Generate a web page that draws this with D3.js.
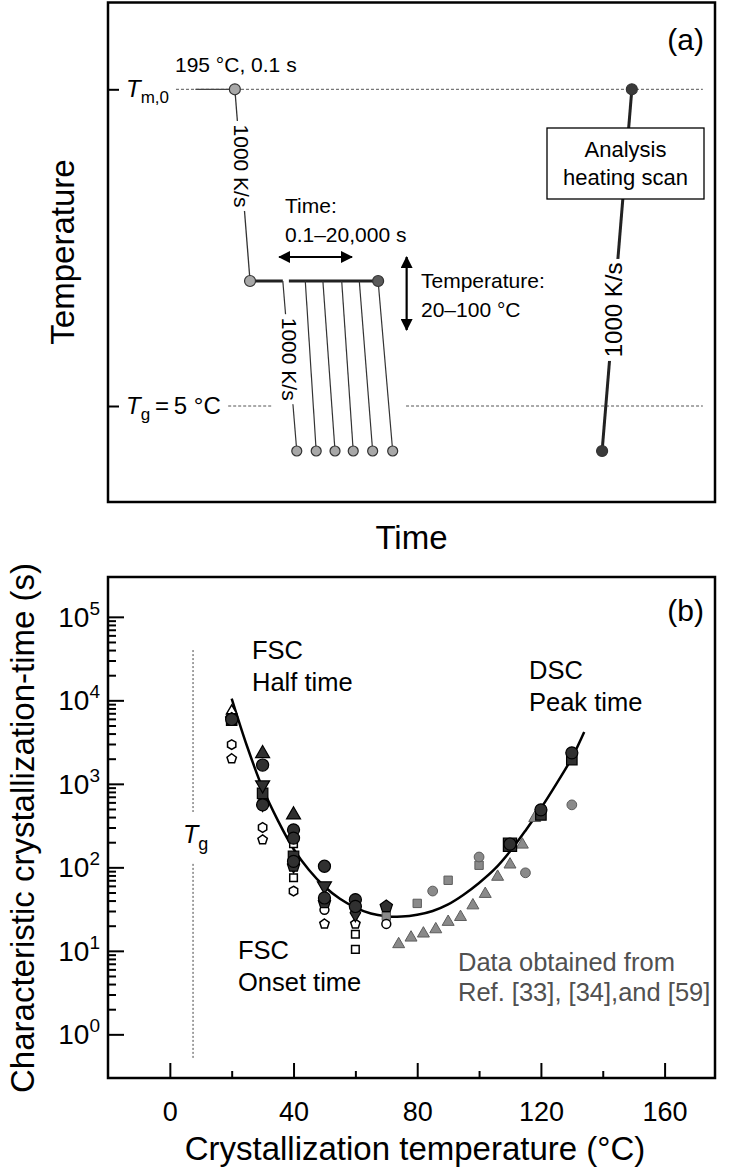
<!DOCTYPE html>
<html>
<head>
<meta charset="utf-8">
<script src="https://cdn.jsdelivr.net/npm/d3@7"></script>
<style>
  body { margin: 0; background: #fff; }
  svg { display: block; font-family: "Liberation Sans", Arial, sans-serif; }
</style>
</head>
<body>
<div id="chart"></div>
<script>
// ---------- panel (a): schematic temperature program (time in arbitrary units 0-100) ----------
const meltTemp = 195, glassTemp = 5, isoTemp = 80, quenchTemp = -22;
const meltDash = [11.2, 98.0];
const meltHold = [14.4, 20.9];
const isoStart = 23.4, isoEnd = 44.5;
const isoGap = [28.8, 29.8];
const quenchStart = [28.8, 32.5, 35.4, 38.5, 41.4, 44.5];
const quenchEnd = [31.1, 34.3, 37.4, 40.4, 43.6, 46.9];
const glassDash = [[19.8, 27.0], [49.1, 98.0]];
const heatScan = [81.4, 86.3];           // start (quenchTemp) -> end (meltTemp)
const timeArrow = [28.2, 40.2], timeArrowTemp = 94.4;
const tempArrow = [94.4, 50.6], tempArrowTime = 49.2;

// ---------- panel (b): characteristic crystallization time ----------
const xMajor = [0, 40, 80, 120, 160];
const xMinor = [20, 60, 100, 140];
const yMajor = [1, 10, 100, 1000, 10000, 100000];
const yMajorExp = ["0", "1", "2", "3", "4", "5"];
const TgB = 7.5;

// fitted curve
const fitT =    [20, 25, 30, 35, 40, 45, 50, 55, 60, 65, 70, 75, 80, 85, 90, 95, 100, 105, 110, 115, 120, 125, 130, 134];
const fitTime = [10500, 2800, 890, 360, 166, 93, 59, 42, 33, 28, 26, 25.7, 27, 30, 36, 47, 65, 95, 155, 275, 510, 1000, 2040, 4170];

// filled dark symbols (FSC half time + DSC peak time)
const darkCircle = [[20, 5900], [30, 1680], [30, 560], [40, 281], [40, 224], [40, 118], [50, 103], [50, 43], [60, 41], [60, 34], [110, 190], [120, 488], [130, 2350]];
const darkSquare = [[20, 5800], [30, 770], [40, 135], [120, 425], [130, 1950]];
const darkBigSquare = [[110, 186]];
const darkTriUp = [[30, 2300], [40, 425]];
const darkTriDown = [[30, 970], [50, 60]];
const darkPentagon = [[20, 6000], [40, 104], [50, 38], [70, 34]];
const darkDiamond = [[30, 600], [40, 110], [60, 28.6]];
// open symbols (FSC onset time)
const openTriUp = [[20, 7500]];
const openHexagon = [[20, 2950], [30, 300], [40, 52]];
const openPentagon = [[20, 2000], [30, 214], [50, 21], [60, 21]];
const openSquare = [[40, 192], [40, 75], [60, 15.8], [60, 10.4]];
const openCircle = [[50, 31], [70, 21]];
// grey symbols (literature data)
const greyTriangle = [[74, 12], [78, 14.4], [82, 16.1], [86, 18.1], [90, 22.2], [94, 25.4], [98, 35], [102, 48], [106, 77], [110, 108], [114, 187], [118, 389]];
const greySquare = [[70, 26], [80, 37], [90, 70], [100, 106]];
const greyCircle = [[85, 52], [100, 133], [115, 86], [130, 560]];

const W = 730, H = 1172;
const svg = d3.select("#chart").append("svg")
    .attr("width", W)
    .attr("height", H);

// arrow heads
const defs = svg.append("defs");
defs.append("marker")
    .attr("id", "head")
    .attr("viewBox", "0 0 12 12")
    .attr("refX", 11).attr("refY", 6)
    .attr("markerWidth", 12).attr("markerHeight", 12)
    .attr("markerUnits", "userSpaceOnUse")
    .attr("orient", "auto-start-reverse")
    .append("path")
    .attr("d", "M0,0 L12,6 L0,12 Z")
    .attr("fill", "#000");

// =================== panel (a) ===================
const boxA = { x0: 108, x1: 715, y0: 2.5, y1: 502 };
const xA = d3.scaleLinear().domain([0, 100]).range([boxA.x0, boxA.x1]);
const yA = d3.scaleLinear().domain([glassTemp, meltTemp]).range([406, 89.3]);
const gA = svg.append("g");

gA.append("rect")
    .attr("x", boxA.x0).attr("y", boxA.y0)
    .attr("width", boxA.x1 - boxA.x0).attr("height", boxA.y1 - boxA.y0)
    .attr("fill", "none").attr("stroke", "#000").attr("stroke-width", 2.5);

// left ticks at T_m,0 and T_g
const axA = gA.append("g")
    .attr("transform", "translate(" + boxA.x0 + ",0)")
    .call(d3.axisLeft(yA).tickValues([glassTemp, meltTemp]).tickSize(-11).tickFormat(""));
axA.select(".domain").remove();
axA.selectAll(".tick line").attr("stroke-width", 2);

const tmLabel = gA.append("text").attr("x", 126).attr("y", yA(meltTemp) + 8)
    .style("font-size", "24px");
tmLabel.append("tspan").style("font-style", "italic").text("T");
tmLabel.append("tspan").attr("dy", 6).style("font-size", "17px").text("m,0");

const tgLabel = gA.append("text").attr("x", 126).attr("y", yA(glassTemp) + 8)
    .style("font-size", "24px");
tgLabel.append("tspan").style("font-style", "italic").text("T");
tgLabel.append("tspan").attr("dy", 6).style("font-size", "17px").text("g");
tgLabel.append("tspan").attr("dy", -6).text("\u2009=\u20095 \u00b0C");

// dashed reference lines
gA.append("line")
    .attr("x1", xA(meltDash[0])).attr("x2", xA(meltDash[1]))
    .attr("y1", yA(meltTemp)).attr("y2", yA(meltTemp))
    .attr("stroke", "#555").attr("stroke-width", 1).attr("stroke-dasharray", "3,2");
gA.selectAll(".tgdash").data(glassDash).join("line")
    .attr("x1", d => xA(d[0])).attr("x2", d => xA(d[1]))
    .attr("y1", yA(glassTemp)).attr("y2", yA(glassTemp))
    .attr("stroke", "#555").attr("stroke-width", 1).attr("stroke-dasharray", "3,2");

// melt hold
gA.append("line")
    .attr("x1", xA(meltHold[0])).attr("x2", xA(meltHold[1]))
    .attr("y1", yA(meltTemp)).attr("y2", yA(meltTemp))
    .attr("stroke", "#444").attr("stroke-width", 1.3);

// cooling to isotherm
gA.append("line")
    .attr("x1", xA(meltHold[1])).attr("y1", yA(meltTemp))
    .attr("x2", xA(isoStart)).attr("y2", yA(isoTemp))
    .attr("stroke", "#333").attr("stroke-width", 1.3);

// isotherm (thick)
[[isoStart, isoGap[0]], [isoGap[1], isoEnd]].forEach(s => {
  gA.append("line")
      .attr("x1", xA(s[0])).attr("x2", xA(s[1]))
      .attr("y1", yA(isoTemp)).attr("y2", yA(isoTemp))
      .attr("stroke", "#222").attr("stroke-width", 3);
});

// quench lines
gA.selectAll(".quench").data(d3.zip(quenchStart, quenchEnd)).join("line")
    .attr("x1", d => xA(d[0])).attr("y1", yA(isoTemp))
    .attr("x2", d => xA(d[1])).attr("y2", yA(quenchTemp))
    .attr("stroke", "#333").attr("stroke-width", 1.2);

// heating scan
gA.append("line")
    .attr("x1", xA(heatScan[0])).attr("y1", yA(quenchTemp))
    .attr("x2", xA(heatScan[1])).attr("y2", yA(meltTemp))
    .attr("stroke", "#222").attr("stroke-width", 3);

// rotated rate labels sitting on the lines
function rateLabel(xa, ya, xb, yb, f, angle, size, len) {
  const cx = xa + (xb - xa) * f, cy = ya + (yb - ya) * f;
  const g = gA.append("g").attr("transform", "translate(" + cx + "," + cy + ") rotate(" + angle + ")");
  g.append("rect").attr("x", -len / 2 - 3).attr("y", -size * 0.6)
      .attr("width", len + 6).attr("height", size * 1.2).attr("fill", "#fff");
  g.append("text").attr("text-anchor", "middle").attr("dy", "0.35em")
      .style("font-size", size + "px").text("1000 K/s");
}
rateLabel(xA(meltHold[1]), yA(meltTemp), xA(isoStart), yA(isoTemp), 0.40, 90, 21, 84);
rateLabel(xA(quenchStart[0]), yA(isoTemp), xA(quenchEnd[0]), yA(quenchTemp), 0.46, 90, 21, 84);
rateLabel(xA(heatScan[0]), yA(quenchTemp), xA(heatScan[1]), yA(meltTemp), 0.39, -90, 24, 96);

// analysis box
gA.append("rect")
    .attr("x", 547).attr("y", 128).attr("width", 157).attr("height", 71)
    .attr("fill", "#fff").attr("stroke", "#000").attr("stroke-width", 1.3);
gA.append("text").attr("x", 625.5).attr("y", 157).attr("text-anchor", "middle")
    .style("font-size", "22px").text("Analysis");
gA.append("text").attr("x", 625.5).attr("y", 185).attr("text-anchor", "middle")
    .style("font-size", "22px").text("heating scan");

// dots
const dotsA = [
  { t: meltHold[1], T: meltTemp, fill: "#a8a8a8", r: 5.5 },
  { t: isoStart, T: isoTemp, fill: "#a8a8a8", r: 5.5 },
  { t: isoEnd, T: isoTemp, fill: "#5a5a5a", r: 5.5 },
  { t: heatScan[0], T: quenchTemp, fill: "#3a3a3a", r: 5.5 },
  { t: heatScan[1], T: meltTemp, fill: "#3a3a3a", r: 5.5 }
].concat(quenchEnd.map(t => ({ t: t, T: quenchTemp, fill: "#a8a8a8", r: 5 })));
gA.selectAll(".dot").data(dotsA).join("circle")
    .attr("cx", d => xA(d.t)).attr("cy", d => yA(d.T)).attr("r", d => d.r)
    .attr("fill", d => d.fill).attr("stroke", "#333").attr("stroke-width", 1.2);

// double arrows
gA.append("line")
    .attr("x1", xA(timeArrow[0])).attr("x2", xA(timeArrow[1]))
    .attr("y1", yA(timeArrowTemp)).attr("y2", yA(timeArrowTemp))
    .attr("stroke", "#000").attr("stroke-width", 2.2)
    .attr("marker-start", "url(#head)").attr("marker-end", "url(#head)");
gA.append("line")
    .attr("x1", xA(tempArrowTime)).attr("x2", xA(tempArrowTime))
    .attr("y1", yA(tempArrow[0])).attr("y2", yA(tempArrow[1]))
    .attr("stroke", "#000").attr("stroke-width", 2.2)
    .attr("marker-start", "url(#head)").attr("marker-end", "url(#head)");

// annotations
const noteA = [
  { x: 175, y: 72, s: "195 \u00b0C, 0.1 s" },
  { x: 285, y: 213, s: "Time:" },
  { x: 285, y: 242, s: "0.1\u201320,000 s" },
  { x: 421, y: 288, s: "Temperature:" },
  { x: 421, y: 317, s: "20\u2013100 \u00b0C" }
];
gA.selectAll(".note").data(noteA).join("text")
    .attr("x", d => d.x).attr("y", d => d.y)
    .style("font-size", "21px").text(d => d.s);

gA.append("text").attr("x", 704).attr("y", 50).attr("text-anchor", "end")
    .style("font-size", "30px").text("(a)");
gA.append("text").attr("transform", "translate(74,252) rotate(-90)").attr("text-anchor", "middle")
    .style("font-size", "33px").text("Temperature");
gA.append("text").attr("x", 411.5).attr("y", 549).attr("text-anchor", "middle")
    .style("font-size", "33px").text("Time");

// =================== panel (b) ===================
const boxB = { x0: 108, x1: 715, y0: 577, y1: 1078 };
const xB = d3.scaleLinear().domain([-20, 176.3]).range([boxB.x0, boxB.x1]);
const yB = d3.scaleLog().domain([0.3, 3e5]).range([boxB.y1, boxB.y0]);
const gB = svg.append("g");

// x axis (ticks inside)
const xAx = gB.append("g").attr("transform", "translate(0," + boxB.y1 + ")")
    .call(d3.axisBottom(xB).tickValues(xMajor).tickSize(-15).tickPadding(24).tickFormat(d3.format("d")));
gB.append("g").attr("transform", "translate(0," + boxB.y1 + ")")
    .call(d3.axisBottom(xB).tickValues(xMinor).tickSize(-7).tickFormat(""));

// y axis (log, ticks inside)
const yMinor = [];
yMajor.slice(0, -1).forEach(v => { for (let m = 2; m <= 9; m++) yMinor.push(v * m); });
gB.append("g").attr("transform", "translate(" + boxB.x0 + ",0)")
    .call(d3.axisLeft(yB).tickValues(yMajor).tickSize(-16).tickFormat(""));
gB.append("g").attr("transform", "translate(" + boxB.x0 + ",0)")
    .call(d3.axisLeft(yB).tickValues(yMinor).tickSize(-8).tickFormat(""));

gB.selectAll(".domain").remove();
gB.selectAll(".tick line").attr("stroke", "#000").attr("stroke-width", 2);
xAx.selectAll(".tick text").style("font-size", "27px").style("font-family", "'Liberation Sans', Arial, sans-serif").attr("fill", "#000");

gB.selectAll(".ylab").data(d3.zip(yMajor, yMajorExp)).join("text")
    .attr("x", 100).attr("y", d => yB(d[0]) + 10)
    .attr("text-anchor", "end").style("font-size", "28px")
    .each(function (d) {
      const t = d3.select(this);
      t.append("tspan").text("10");
      t.append("tspan").attr("dy", -12).style("font-size", "19px").text(d[1]);
    });

gB.append("rect")
    .attr("x", boxB.x0).attr("y", boxB.y0)
    .attr("width", boxB.x1 - boxB.x0).attr("height", boxB.y1 - boxB.y0)
    .attr("fill", "none").attr("stroke", "#000").attr("stroke-width", 2.5);

// Tg line
[[4e4, 460], [110, 0.5]].forEach(s => {
  gB.append("line")
      .attr("x1", xB(TgB)).attr("x2", xB(TgB))
      .attr("y1", yB(s[0])).attr("y2", yB(s[1]))
      .attr("stroke", "#444").attr("stroke-width", 1).attr("stroke-dasharray", "2,2");
});
const tgB = gB.append("text").attr("x", 183).attr("y", 843).style("font-size", "25px");
tgB.append("tspan").style("font-style", "italic").text("T");
tgB.append("tspan").attr("dy", 7).style("font-size", "18px").text("g");

// fit curve
const line = d3.line()
    .x(d => xB(d[0])).y(d => yB(d[1]))
    .curve(d3.curveCatmullRom.alpha(0.5));
gB.append("path")
    .datum(d3.zip(fitT, fitTime))
    .attr("d", line)
    .attr("fill", "none").attr("stroke", "#000").attr("stroke-width", 2.5);

// symbol shapes
const polygon = (n, rot) => ({
  draw(ctx, size) {
    const r = Math.sqrt(2 * size / (n * Math.sin(2 * Math.PI / n)));
    for (let i = 0; i < n; i++) {
      const a = rot + i * 2 * Math.PI / n;
      const px = r * Math.cos(a), py = r * Math.sin(a);
      if (i === 0) ctx.moveTo(px, py); else ctx.lineTo(px, py);
    }
    ctx.closePath();
  }
});
const triUp = polygon(3, -Math.PI / 2);
const triDown = polygon(3, Math.PI / 2);
const pentagon = polygon(5, -Math.PI / 2);
const hexagon = polygon(6, -Math.PI / 2);

function drawMarkers(data, type, size, fill, stroke, sw) {
  gB.append("g").selectAll("path").data(data).join("path")
      .attr("transform", d => "translate(" + xB(d[0]) + "," + yB(d[1]) + ")")
      .attr("d", d3.symbol(type, size))
      .attr("fill", fill).attr("stroke", stroke).attr("stroke-width", sw);
}

const grey = "#8a8a8a", greyEdge = "#5c5c5c";
drawMarkers(greyTriangle, triUp, 62, grey, greyEdge, 1);
drawMarkers(greySquare, d3.symbolSquare, 70, grey, greyEdge, 1);
drawMarkers(greyCircle, d3.symbolCircle, 75, grey, greyEdge, 1);

drawMarkers(openSquare, d3.symbolSquare, 58, "#fff", "#000", 1.5);
drawMarkers(openPentagon, pentagon, 58, "#fff", "#000", 1.5);
drawMarkers(openHexagon, hexagon, 60, "#fff", "#000", 1.5);
drawMarkers(openCircle, d3.symbolCircle, 62, "#fff", "#000", 1.5);
drawMarkers(openTriUp, triUp, 45, "#fff", "#000", 1.5);

const dark = "#303030";
drawMarkers(darkDiamond, d3.symbolDiamond, 95, dark, "#000", 1.2);
drawMarkers(darkSquare, d3.symbolSquare, 110, dark, "#000", 1.2);
drawMarkers(darkBigSquare, d3.symbolSquare, 175, dark, "#000", 1.2);
drawMarkers(darkTriDown, triDown, 85, dark, "#000", 1.2);
drawMarkers(darkTriUp, triUp, 85, dark, "#000", 1.2);
drawMarkers(darkPentagon, pentagon, 100, dark, "#000", 1.2);
drawMarkers(darkCircle, d3.symbolCircle, 115, dark, "#000", 1.2);

// annotations
const noteB = [
  { x: 252, y: 659, s: "FSC", c: "#000" },
  { x: 252, y: 691, s: "Half time", c: "#000" },
  { x: 529, y: 679, s: "DSC", c: "#000" },
  { x: 529, y: 711, s: "Peak time", c: "#000" },
  { x: 238, y: 959, s: "FSC", c: "#000" },
  { x: 238, y: 991, s: "Onset time", c: "#000" },
  { x: 458, y: 971, s: "Data obtained from", c: "#505050" },
  { x: 458, y: 1001, s: "Ref. [33], [34],and [59]", c: "#505050" }
];
gB.selectAll(".note").data(noteB).join("text")
    .attr("x", d => d.x).attr("y", d => d.y).attr("fill", d => d.c)
    .style("font-size", "25.5px").text(d => d.s);

gB.append("text").attr("x", 704).attr("y", 621).attr("text-anchor", "end")
    .style("font-size", "30px").text("(b)");
gB.append("text").attr("transform", "translate(34,828) rotate(-90)").attr("text-anchor", "middle")
    .style("font-size", "33px").text("Characteristic crystallization-time (s)");
gB.append("text").attr("x", 415).attr("y", 1160).attr("text-anchor", "middle")
    .style("font-size", "33px").text("Crystallization temperature (\u00b0C)");
</script>
